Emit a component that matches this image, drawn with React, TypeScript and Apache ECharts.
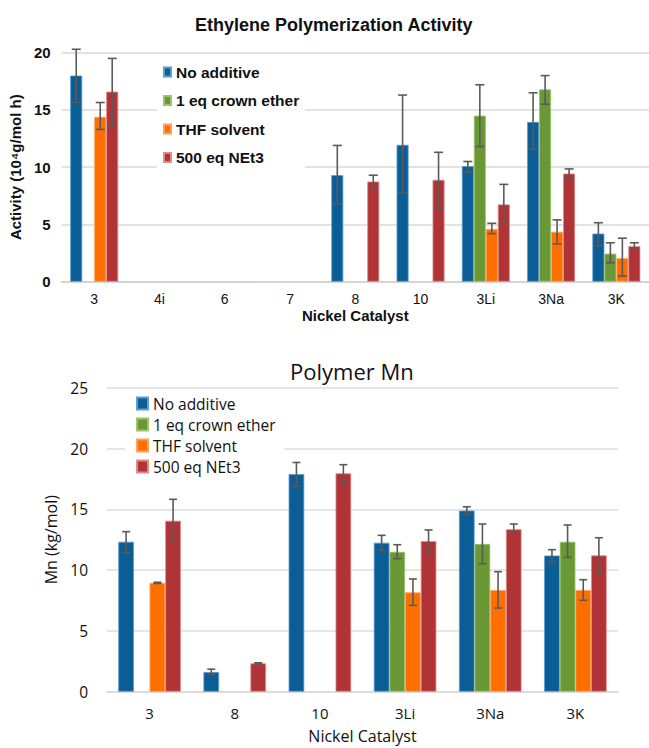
import React, { useEffect, useRef } from "react";
import * as echarts from "echarts";

// ---------- Data ----------
const seriesNames = ["No additive", "1 eq crown ether", "THF solvent", "500 eq NEt3"];

// Top chart: Ethylene Polymerization Activity (10^4 g/mol h)
const topCategories = ["3", "4i", "6", "7", "8", "10", "3Li", "3Na", "3K"];
const topNoAdditive = [18.0, null, null, null, 9.3, 11.95, 10.1, 13.95, 4.2];
const topNoAdditiveLo = [15.65, null, null, null, 6.8, 7.75, 9.55, 11.55, 3.15];
const topNoAdditiveHi = [20.3, null, null, null, 11.9, 16.3, 10.5, 16.5, 5.15];
const topCrown = [null, null, null, null, null, null, 14.5, 16.8, 2.45];
const topCrownLo = [null, null, null, null, null, null, 11.8, 15.5, 1.65];
const topCrownHi = [null, null, null, null, null, null, 17.2, 18.0, 3.4];
const topTHF = [14.4, null, null, null, null, null, 4.6, 4.35, 2.05];
const topTHFLo = [13.3, null, null, null, null, null, 4.2, 3.3, 0.5];
const topTHFHi = [15.65, null, null, null, null, null, 5.1, 5.4, 3.8];
const topNEt3 = [16.6, null, null, null, 8.75, 8.9, 6.75, 9.45, 3.1];
const topNEt3Lo = [13.6, null, null, null, 8.05, 6.45, 5.1, 8.95, 2.85];
const topNEt3Hi = [19.5, null, null, null, 9.3, 11.3, 8.5, 9.85, 3.4];
const topTicks = [0, 5, 10, 15, 20];

// Bottom chart: Polymer Mn (kg/mol)
const botCategories = ["3", "8", "10", "3Li", "3Na", "3K"];
const botNoAdditive = [12.33, 1.62, 17.9, 12.25, 14.9, 11.2];
const botNoAdditiveLo = [11.45, 1.42, 16.9, 11.63, 14.56, 10.67];
const botNoAdditiveHi = [13.16, 1.85, 18.85, 12.86, 15.21, 11.68];
const botCrown = [null, null, null, 11.5, 12.15, 12.33];
const botCrownLo = [null, null, null, 10.94, 10.53, 11.05];
const botCrownHi = [null, null, null, 12.09, 13.79, 13.71];
const botTHF = [8.95, null, null, 8.17, 8.36, 8.36];
const botTHFLo = [8.9, null, null, 7.1, 6.88, 7.52];
const botTHFHi = [9.0, null, null, 9.27, 9.87, 9.21];
const botNEt3 = [14.06, 2.33, 17.96, 12.39, 13.36, 11.21];
const botNEt3Lo = [12.33, 2.28, 17.19, 11.51, 13.03, 9.79];
const botNEt3Hi = [15.82, 2.38, 18.67, 13.3, 13.79, 12.66];
const botTicks = [0, 5, 10, 15, 20, 25];

// ---------- Styles ----------
const colors = ["#0a5d95", "#6a9834", "#ff6f00", "#b03436"];
const borders = ["#5d9bd0", "#9cc46c", "#ffa060", "#e08a8a"];
const GAP = 0.265;
const errColor = "#5a5a5a";

const topVals = [topNoAdditive, topCrown, topTHF, topNEt3];
const topLo = [topNoAdditiveLo, topCrownLo, topTHFLo, topNEt3Lo];
const topHi = [topNoAdditiveHi, topCrownHi, topTHFHi, topNEt3Hi];
const botVals = [botNoAdditive, botCrown, botTHF, botNEt3];
const botLo = [botNoAdditiveLo, botCrownLo, botTHFLo, botNEt3Lo];
const botHi = [botNoAdditiveHi, botCrownHi, botTHFHi, botNEt3Hi];

function errData(lo: (number | null)[], hi: (number | null)[]) {
  const out: number[][] = [];
  lo.forEach((l, i) => {
    const h = hi[i];
    if (l != null && h != null) out.push([i, l, h]);
  });
  return out;
}

function makeErr(k: number, axisIndex: number, lo: any[], hi: any[], capHalf: number) {
  return {
    type: "custom",
    name: "err" + axisIndex + "_" + k,
    xAxisIndex: axisIndex,
    yAxisIndex: axisIndex,
    z: 10,
    silent: true,
    encode: { x: 0, y: [1, 2] },
    data: errData(lo, hi),
    renderItem: (params: any, api: any) => {
      const ci = api.value(0);
      const pLo = api.coord([ci, api.value(1)]);
      const pHi = api.coord([ci, api.value(2)]);
      const band = api.size([1, 0])[0];
      const bw = (band * (1 - GAP)) / 4;
      const x = pLo[0] - 2 * bw + (k + 0.5) * bw;
      const st = { stroke: errColor, lineWidth: 1.6 };
      return {
        type: "group",
        children: [
          { type: "line", shape: { x1: x, y1: pLo[1], x2: x, y2: pHi[1] }, style: st },
          { type: "line", shape: { x1: x - capHalf, y1: pHi[1], x2: x + capHalf, y2: pHi[1] }, style: st },
          { type: "line", shape: { x1: x - capHalf, y1: pLo[1], x2: x + capHalf, y2: pLo[1] }, style: st },
        ],
      };
    },
  };
}

export default function App() {
  const ref = useRef<HTMLDivElement>(null);
  useEffect(() => {
    if (!ref.current) return;
    const chart = echarts.init(ref.current, null, { renderer: "svg" });
    const topFont = "Liberation Sans";
    const botFont = "Open Sans";

    const series: any[] = [];
    seriesNames.forEach((name, k) => {
      series.push({
        type: "bar",
        name,
        xAxisIndex: 0,
        yAxisIndex: 0,
        data: topVals[k].map((v) => (v == null ? "-" : v)),
        barGap: "0%",
        barCategoryGap: GAP * 100 + "%",
        itemStyle: { color: colors[k], borderColor: borders[k], borderWidth: 0.8 },
      });
    });
    seriesNames.forEach((name, k) => {
      series.push({
        type: "bar",
        name,
        xAxisIndex: 1,
        yAxisIndex: 1,
        data: botVals[k].map((v) => (v == null ? "-" : v)),
        barGap: "0%",
        barCategoryGap: GAP * 100 + "%",
        itemStyle: { color: colors[k], borderColor: borders[k], borderWidth: 0.8 },
      });
    });
    seriesNames.forEach((_, k) => series.push(makeErr(k, 0, topLo[k], topHi[k], 4.5)));
    seriesNames.forEach((_, k) => series.push(makeErr(k, 1, botLo[k], botHi[k], 4)));

    chart.setOption({
      animation: false,
      color: colors,
      graphic: [
        {
          type: "text",
          left: 335 - 140,
          top: 16,
          style: {
            text: "Ethylene Polymerization Activity",
            font: `bold 18px "${topFont}"`,
            fill: "#111",
          },
        },
        {
          type: "text",
          left: 290,
          top: 360,
          style: {
            text: "Polymer Mn",
            font: `22px "${botFont}"`,
            fill: "#111",
          },
        },
      ],
      legend: [
        {
          data: seriesNames,
          orient: "vertical",
          left: 157,
          top: 57,
          padding: [7, 6, 7, 6],
          itemGap: 12.5,
          itemWidth: 7,
          itemHeight: 9,
          icon: "rect",
          backgroundColor: "#ffffff",
          textStyle: { fontFamily: topFont, fontWeight: "bold", fontSize: 15.5, color: "#111", lineHeight: 16 },
        },
        {
          data: seriesNames,
          orient: "vertical",
          left: 125,
          top: 390,
          padding: [5, 9, 5, 11],
          itemGap: 4,
          itemWidth: 11,
          itemHeight: 12,
          icon: "rect",
          backgroundColor: "#ffffff",
          textStyle: { fontFamily: botFont, fontSize: 15.5, color: "#111", lineHeight: 17 },
        },
      ],
      grid: [
        { left: 61, top: 52.7, width: 588, height: 229 },
        { left: 107, top: 387.7, width: 511, height: 304 },
      ],
      xAxis: [
        {
          type: "category",
          gridIndex: 0,
          data: topCategories,
          axisTick: { show: false },
          axisLine: { lineStyle: { color: "#d0d0d0", width: 1.5 } },
          axisLabel: { fontFamily: topFont, fontSize: 14, color: "#111", margin: 10 },
          name: "Nickel Catalyst",
          nameLocation: "middle",
          nameGap: 26,
          nameTextStyle: { fontFamily: topFont, fontWeight: "bold", fontSize: 15, color: "#111" },
        },
        {
          type: "category",
          gridIndex: 1,
          data: botCategories,
          axisTick: { show: false },
          axisLine: { lineStyle: { color: "#d8d8d8", width: 1.5 } },
          axisLabel: { fontFamily: botFont, fontSize: 15, color: "#111", margin: 14 },
          name: "Nickel Catalyst",
          nameLocation: "middle",
          nameGap: 36,
          nameTextStyle: { fontFamily: botFont, fontSize: 16, color: "#111" },
        },
      ],
      yAxis: [
        {
          type: "value",
          gridIndex: 0,
          min: topTicks[0],
          max: topTicks[topTicks.length - 1],
          interval: 5,
          axisLine: { show: false },
          axisTick: { show: false },
          splitLine: { lineStyle: { color: "#d9d9d9", width: 1.5 } },
          axisLabel: { fontFamily: topFont, fontWeight: "bold", fontSize: 15, color: "#111", margin: 11 },
          name: "Activity (10\u2074g/mol h)",
          nameLocation: "middle",
          nameGap: 35,
          nameTextStyle: { fontFamily: topFont, fontWeight: "bold", fontSize: 15, color: "#111" },
        },
        {
          type: "value",
          gridIndex: 1,
          min: botTicks[0],
          max: botTicks[botTicks.length - 1],
          interval: 5,
          axisLine: { show: false },
          axisTick: { show: false },
          splitLine: { lineStyle: { color: "#dedede", width: 1.5 } },
          axisLabel: { fontFamily: botFont, fontSize: 15.5, color: "#111", margin: 19 },
          name: "Mn (kg/mol)",
          nameLocation: "middle",
          nameGap: 45,
          nameTextStyle: { fontFamily: botFont, fontSize: 16, color: "#111" },
        },
      ],
      series,
    });
    return () => chart.dispose();
  }, []);
  return (
    <div
      ref={ref}
      style={{ position: "fixed", left: 0, top: 0, width: 649, height: 748, background: "#fff" }}
    />
  );
}
